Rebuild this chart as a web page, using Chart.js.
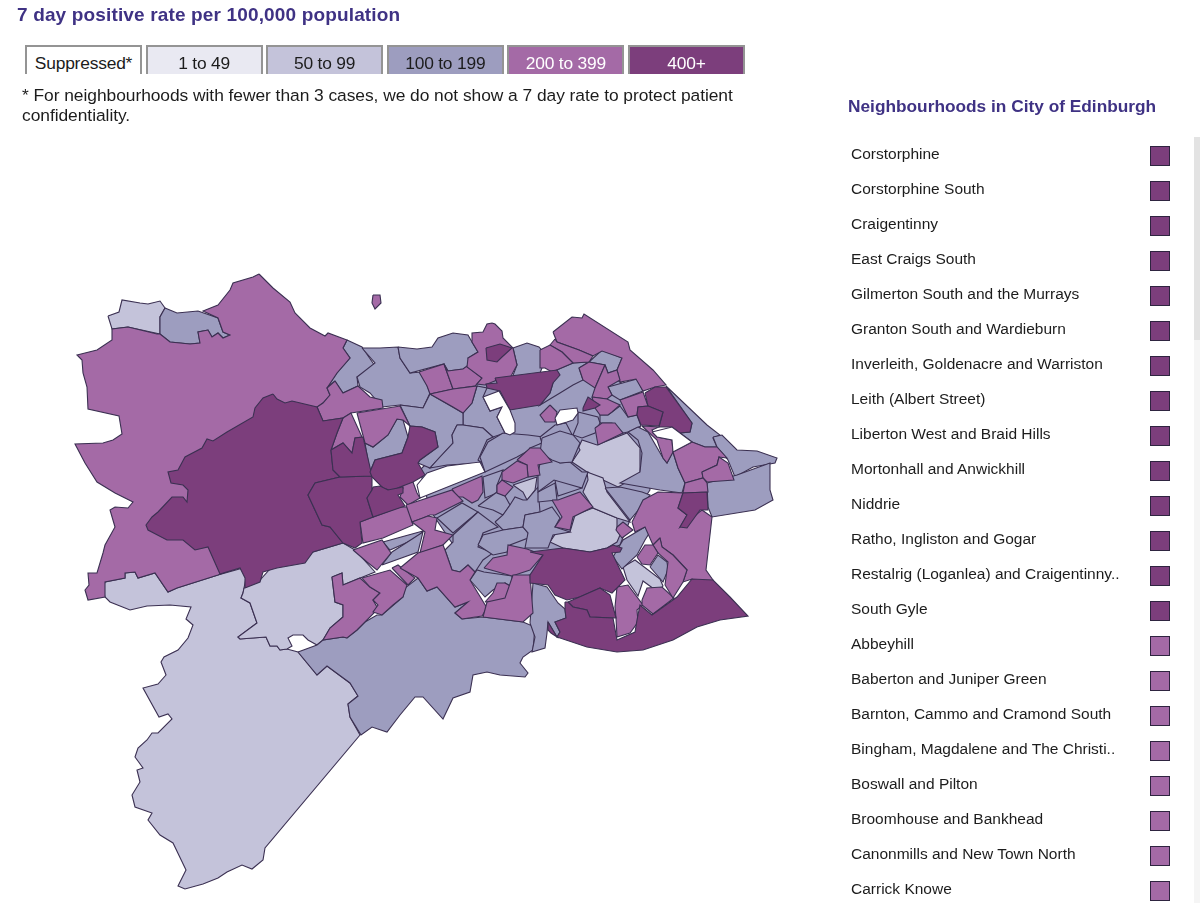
<!DOCTYPE html>
<html>
<head>
<meta charset="utf-8">
<script src="https://cdn.jsdelivr.net/npm/chart.js@4/dist/chart.umd.min.js"></script>
<style>
html,body{margin:0;padding:0;background:#fff;overflow:hidden}
body{width:1200px;height:903px;position:relative;font-family:"Liberation Sans",Arial,sans-serif;color:#1c1c1c}
#map{position:absolute;left:0;top:0}
#title{position:absolute;left:17px;top:4px;font-size:19px;font-weight:bold;color:#3f3284;letter-spacing:.15px;line-height:22px}
#key{position:absolute;left:25px;top:45px}
.chip{position:absolute;top:0;width:113px;height:27px;line-height:32px;text-align:center;font-size:17.4px;border:2px solid #949494;border-bottom:none;letter-spacing:-.2px}
#note{position:absolute;left:22px;top:85px;width:730px;font-size:17.4px;line-height:20px;letter-spacing:-.05px}
#side{position:absolute;left:848px;top:96px;font-size:17.3px;font-weight:bold;color:#3f3284}
.row{position:absolute;left:851px;font-size:15.5px;line-height:18px}
.box{position:absolute;left:1150px;width:18px;height:18px;border:1px solid #2e2440}
#scroll{position:absolute;left:1194px;top:137px;width:6px;height:766px;background:#f5f5f5}
#thumb{position:absolute;left:1194px;top:137px;width:6px;height:203px;background:#e3e3e3}
</style>
</head>
<body>
<canvas id="map" width="1200" height="903"></canvas>
<div id="title">7 day positive rate per 100,000 population</div>
<div id="key"></div>
<div id="note">* For neighbourhoods with fewer than 3 cases, we do not show a 7 day rate to protect patient confidentiality.</div>
<div id="side">Neighbourhoods in City of Edinburgh</div>
<div id="scroll"></div><div id="thumb"></div>
<script>
const band_labels = ["Suppressed*","1 to 49","50 to 99","100 to 199","200 to 399","400+"];
const band_colours = ["#ffffff","#e9e9f2","#c4c3da","#9d9dbf","#a46aa6","#7c3e7c"];
const band_text = ["#1c1c1c","#1c1c1c","#1c1c1c","#1c1c1c","#ffffff","#ffffff"];

const list_names = ["Corstorphine","Corstorphine South","Craigentinny","East Craigs South","Gilmerton South and the Murrays","Granton South and Wardieburn","Inverleith, Goldenacre and Warriston","Leith (Albert Street)","Liberton West and Braid Hills","Mortonhall and Anwickhill","Niddrie","Ratho, Ingliston and Gogar","Restalrig (Loganlea) and Craigentinny..","South Gyle","Abbeyhill","Baberton and Juniper Green","Barnton, Cammo and Cramond South","Bingham, Magdalene and The Christi..","Boswall and Pilton","Broomhouse and Bankhead","Canonmills and New Town North","Carrick Knowe"];
const list_bands = [5,5,5,5,5,5,5,5,5,5,5,5,5,5,4,4,4,4,4,4,4,4];

// outlines, x/y in picture pixels, painted in this order
const centre_underlay = [
 [[470,385],[540,373],[552,372],[590,362],[620,382],[640,395],[640,430],[650,490],[630,520],[620,545],[530,575],[510,580],[470,570],[430,510],[420,470],[430,460]]
];
const band_50 = [
 [[105,582],[125,578],[125,573],[135,572],[138,578],[155,573],[168,592],[177,588],[218,575],[243,568],[246,578],[243,593],[241,598],[250,603],[257,623],[238,637],[240,639],[266,637],[270,646],[277,646],[280,650],[287,649],[298,652],[317,675],[327,666],[350,683],[358,696],[348,704],[350,717],[360,735],[265,848],[263,860],[252,869],[242,865],[227,872],[218,878],[203,884],[185,889],[178,886],[186,870],[173,843],[160,835],[148,820],[152,813],[135,807],[132,795],[140,782],[137,770],[143,768],[135,757],[138,748],[147,740],[152,733],[158,733],[172,719],[168,714],[159,717],[143,688],[158,684],[166,675],[161,662],[164,657],[178,650],[188,638],[193,625],[186,619],[191,607],[170,605],[147,606],[130,610],[110,602],[105,597],[103,588]],
 [[244,588],[260,580],[270,569],[313,552],[343,543],[355,550],[375,572],[343,585],[342,573],[332,577],[335,602],[343,605],[343,617],[330,628],[323,640],[317,645],[308,640],[303,635],[293,635],[288,638],[292,646],[287,649],[280,650],[277,646],[270,646],[266,637],[240,639],[238,637],[257,623],[250,603],[241,598],[243,593]],
 [[108,316],[119,312],[122,300],[140,303],[148,304],[160,301],[165,308],[160,317],[160,334],[128,327],[112,329]],
 [[572,462],[582,440],[597,445],[627,433],[640,448],[640,475],[618,487],[603,480],[587,472]],
 [[550,542],[558,530],[570,532],[575,515],[593,508],[617,518],[617,530],[620,535],[617,542],[607,548],[590,552],[563,548]],
 [[587,472],[603,478],[607,492],[630,522],[617,518],[593,508],[583,492],[588,480]],
 [[513,485],[537,477],[535,490],[527,500],[523,492]],
 [[623,567],[635,560],[660,579],[663,586],[658,592],[643,581],[638,596],[627,580]]
];
const band_100 = [
 [[165,308],[177,313],[198,311],[218,318],[223,332],[230,335],[223,338],[218,333],[212,337],[208,330],[198,332],[200,343],[190,344],[170,342],[160,334],[160,317]],
 [[347,340],[362,347],[375,366],[357,377],[358,386],[343,393],[335,381],[327,388],[337,373],[350,358],[343,348]],
 [[362,348],[375,363],[357,377],[360,387],[370,393],[382,407],[400,405],[423,408],[430,393],[422,372],[410,373],[400,358],[398,347],[380,348]],
 [[398,347],[417,349],[432,347],[438,338],[453,333],[468,335],[472,342],[478,352],[468,358],[472,368],[467,367],[463,369],[448,371],[444,364],[410,373],[400,358]],
 [[513,348],[527,343],[539,347],[544,353],[544,363],[540,373],[512,378],[517,365]],
 [[477,386],[487,388],[483,397],[490,411],[502,407],[497,417],[505,433],[493,437],[483,428],[463,425],[463,413],[472,403]],
 [[400,405],[423,408],[430,394],[463,413],[463,425],[457,425],[452,435],[453,443],[440,457],[430,468],[418,463],[420,460],[438,447],[435,432],[422,427],[410,426]],
 [[365,443],[373,447],[388,435],[397,419],[403,420],[408,437],[402,453],[375,460],[370,472]],
 [[457,425],[463,425],[483,428],[493,437],[487,440],[478,460],[482,463],[447,465],[430,468],[440,457],[453,443],[452,435]],
 [[480,457],[485,472],[517,457],[542,443],[543,437],[528,435],[503,433],[488,442]],
 [[540,437],[555,425],[566,423],[580,450],[572,462],[562,463],[553,458],[540,463],[530,448],[542,443]],
 [[552,372],[573,363],[589,362],[579,368],[583,380],[573,385],[560,393],[540,405],[550,393],[553,383]],
 [[589,362],[602,350],[622,358],[617,370],[608,373],[605,365]],
 [[608,387],[637,379],[643,391],[620,400],[612,395]],
 [[600,415],[608,415],[620,406],[628,417],[637,415],[641,426],[628,432],[623,433],[612,423],[600,423]],
 [[578,412],[598,417],[600,423],[595,433],[582,438],[573,435],[578,423]],
 [[666,386],[707,425],[720,435],[713,438],[717,447],[705,447],[692,442],[680,433],[690,432],[692,423]],
 [[713,437],[722,435],[737,450],[757,451],[777,458],[775,463],[753,467],[735,477],[728,460],[717,447]],
 [[707,483],[737,475],[770,463],[770,490],[773,500],[755,510],[712,517],[708,507]],
 [[638,427],[648,432],[663,458],[667,463],[673,452],[678,468],[685,483],[682,493],[660,490],[620,483],[640,472],[642,453],[638,440],[628,432]],
 [[605,488],[620,487],[642,492],[650,495],[640,508],[630,520]],
 [[383,542],[423,531],[417,538],[390,550]],
 [[382,565],[392,552],[423,532],[418,552]],
 [[437,518],[462,503],[478,512],[453,533]],
 [[453,535],[478,512],[498,527],[483,533],[478,547],[493,553],[483,560],[475,572],[468,565],[460,572],[452,570],[445,550],[453,542]],
 [[470,580],[477,570],[484,572],[512,576],[512,587],[505,583],[493,590],[485,597]],
 [[298,652],[317,645],[323,640],[343,637],[347,638],[357,630],[365,622],[377,615],[382,615],[403,597],[405,588],[418,578],[427,591],[437,587],[455,607],[468,602],[455,613],[462,619],[483,617],[523,622],[535,627],[533,650],[523,657],[520,663],[528,673],[525,677],[500,675],[487,672],[473,675],[470,692],[453,698],[443,719],[423,697],[415,697],[400,715],[387,732],[372,727],[361,735],[350,717],[348,704],[358,696],[350,683],[327,666],[317,675]],
 [[533,583],[547,587],[558,603],[565,609],[566,618],[555,622],[560,632],[557,637],[548,622],[547,633],[545,648],[532,652],[535,637],[530,623]],
 [[613,557],[623,540],[645,527],[650,532],[645,540],[637,555],[622,569]],
 [[650,567],[658,555],[667,562],[668,570],[663,582]],
 [[483,477],[503,470],[497,485],[497,493],[485,498]],
 [[478,506],[497,492],[505,496],[510,505],[503,515],[493,510]],
 [[495,522],[503,515],[510,505],[515,497],[523,500],[527,500],[538,487],[540,512],[525,515],[523,527],[503,530]],
 [[478,545],[483,535],[503,530],[523,527],[528,533],[528,538],[510,545],[507,552],[493,555]],
 [[525,515],[540,512],[552,507],[560,518],[555,527],[570,532],[553,535],[548,548],[525,548],[528,533],[523,527]],
 [[538,492],[555,483],[557,500],[538,502]],
 [[555,480],[580,480],[582,488],[558,496]],
 [[540,463],[553,458],[560,463],[570,462],[582,472],[588,472],[582,488],[554,480],[538,492],[538,475]],
 [[542,438],[560,431],[573,435],[580,443],[572,462],[560,463],[552,460],[540,453]]
];
const band_200 = [
 [[259,274],[273,288],[290,302],[295,313],[310,328],[325,336],[328,333],[347,340],[343,348],[350,358],[337,373],[327,388],[330,395],[323,403],[300,420],[250,450],[190,500],[230,570],[218,575],[177,588],[168,592],[155,573],[138,578],[135,572],[125,573],[125,578],[105,582],[105,597],[88,600],[85,590],[89,585],[88,573],[97,573],[103,553],[105,545],[115,527],[110,510],[115,507],[128,508],[133,502],[115,493],[97,482],[85,463],[75,444],[103,443],[113,440],[122,434],[119,416],[88,409],[87,387],[83,373],[82,360],[77,355],[97,350],[112,340],[112,329],[128,327],[157,334],[160,334],[170,342],[190,344],[200,343],[198,332],[208,330],[212,337],[218,333],[223,338],[230,335],[223,332],[218,318],[203,311],[218,305],[230,290],[233,283],[253,277]],
 [[335,381],[343,393],[358,386],[370,397],[382,400],[383,408],[351,413],[343,418],[323,421],[317,407],[323,403],[330,395],[327,388]],
 [[343,418],[351,413],[362,437],[355,438],[352,453],[343,443],[331,450],[337,433]],
 [[419,372],[444,364],[453,389],[430,394],[427,386]],
 [[444,364],[448,371],[463,369],[467,366],[482,378],[475,386],[453,389]],
 [[430,394],[453,389],[477,386],[472,403],[463,413],[453,407]],
 [[492,323],[495,324],[502,331],[503,338],[513,348],[517,365],[510,378],[497,380],[485,385],[477,384],[482,378],[467,367],[468,358],[478,352],[472,342],[472,333],[483,332],[487,324]],
 [[357,413],[400,406],[410,426],[403,420],[397,419],[388,435],[373,447],[365,443]],
 [[393,473],[402,480],[413,482],[417,493],[420,498],[408,505],[400,497],[403,488]],
 [[553,332],[572,317],[582,318],[584,314],[628,342],[630,350],[653,370],[666,385],[655,387],[643,391],[636,379],[620,382],[617,370],[622,358],[602,351],[593,356],[579,350],[557,342]],
 [[555,339],[557,342],[579,350],[593,356],[589,362],[573,363],[562,352],[550,345]],
 [[540,350],[550,345],[562,352],[573,363],[552,372],[545,368],[540,368]],
 [[579,368],[589,362],[605,365],[595,388],[583,380]],
 [[605,365],[608,373],[617,370],[620,380],[608,387],[612,395],[607,399],[592,397],[595,388]],
 [[620,400],[643,392],[648,406],[638,407],[637,415],[628,417]],
 [[550,405],[557,412],[555,422],[545,422],[540,415]],
 [[595,428],[602,423],[615,423],[623,433],[598,445]],
 [[592,397],[607,399],[620,405],[612,412],[608,415],[600,415],[595,408]],
 [[673,452],[692,442],[705,447],[717,447],[727,458],[719,457],[717,465],[702,472],[703,478],[685,483],[678,468]],
 [[702,472],[717,465],[719,457],[728,463],[734,480],[707,482],[703,478]],
 [[685,483],[703,478],[707,483],[708,492],[683,493]],
 [[642,426],[659,427],[652,430],[657,437],[672,440],[673,452],[667,463],[663,458],[657,440]],
 [[517,460],[530,448],[540,448],[552,462],[538,465],[540,475],[528,477],[527,465]],
 [[502,472],[517,461],[527,465],[528,477],[513,483],[502,480]],
 [[497,485],[502,480],[513,487],[505,496],[497,493]],
 [[452,489],[482,476],[483,492],[478,500],[472,503],[463,497],[457,497]],
 [[552,500],[558,500],[580,492],[593,507],[573,517],[570,530],[555,527],[562,517]],
 [[360,522],[400,507],[408,507],[413,525],[383,538],[363,543]],
 [[406,505],[452,490],[463,501],[435,515],[430,515],[423,518],[412,522]],
 [[412,522],[428,516],[437,518],[435,530],[453,535],[443,545],[420,553],[425,532]],
 [[353,550],[382,540],[391,553],[377,570],[367,562]],
 [[332,577],[342,573],[343,585],[360,578],[370,587],[380,593],[373,600],[377,607],[375,612],[357,630],[347,638],[343,637],[323,640],[330,628],[343,617],[343,605],[335,602]],
 [[362,578],[390,570],[407,585],[403,597],[393,605],[382,615],[373,612],[378,605],[373,600],[380,593],[370,587]],
 [[392,568],[398,565],[415,578],[408,585]],
 [[400,568],[418,553],[443,545],[445,550],[452,570],[460,572],[468,565],[475,572],[470,580],[487,608],[482,616],[462,619],[455,613],[468,602],[455,607],[437,587],[427,591],[418,578]],
 [[484,568],[493,558],[507,555],[508,545],[527,549],[543,555],[530,570],[512,576]],
 [[485,602],[493,593],[497,583],[505,583],[512,587],[505,602]],
 [[483,617],[487,602],[505,598],[513,575],[530,575],[533,613],[523,622]],
 [[617,587],[628,585],[643,605],[637,610],[638,622],[630,633],[617,637],[616,618],[615,607]],
 [[642,600],[647,588],[662,587],[674,598],[653,614],[642,605]],
 [[632,522],[643,500],[658,492],[683,493],[678,508],[687,515],[680,527],[702,510],[712,517],[706,570],[713,580],[703,585],[692,579],[683,582],[687,570],[673,555],[662,547],[660,538],[653,545],[645,527],[635,532]],
 [[660,538],[662,547],[673,555],[687,570],[683,582],[673,598],[665,585],[668,562],[658,553],[653,545]],
 [[637,557],[645,545],[653,545],[658,553],[650,565],[642,564]],
 [[617,527],[623,522],[633,530],[622,538],[616,530]],
 [[373,295],[380,295],[381,303],[375,309],[372,303]]
];
const band_400 = [
 [[273,394],[277,399],[285,403],[292,401],[317,407],[323,421],[343,418],[337,433],[331,450],[333,470],[340,477],[315,483],[308,495],[322,525],[330,527],[343,543],[313,552],[305,563],[277,568],[263,572],[260,582],[245,588],[245,578],[240,568],[220,574],[208,547],[195,550],[183,540],[167,540],[148,530],[146,525],[152,517],[158,512],[172,497],[183,497],[187,502],[188,490],[183,485],[171,483],[168,472],[178,470],[185,457],[202,448],[207,439],[213,441],[227,432],[253,417],[255,408],[263,398]],
 [[315,483],[340,477],[372,476],[372,490],[367,498],[373,517],[360,522],[362,543],[355,548],[343,543],[330,527],[322,525],[308,495]],
 [[331,450],[343,443],[352,453],[355,438],[363,437],[372,476],[340,477],[333,470]],
 [[486,348],[500,344],[512,348],[502,357],[497,362],[487,360]],
 [[495,378],[557,370],[560,375],[553,383],[550,393],[540,405],[510,410],[500,391],[487,388],[486,384],[497,383]],
 [[410,426],[422,427],[435,432],[438,447],[420,460],[418,463],[425,475],[413,482],[400,487],[392,491],[383,488],[372,477],[370,472],[375,460],[402,453],[408,437]],
 [[373,487],[380,486],[388,490],[403,487],[403,493],[398,495],[405,506],[373,517],[367,498],[372,490]],
 [[645,393],[655,387],[666,387],[692,423],[690,432],[680,433],[672,427],[659,427],[663,412],[648,406]],
 [[648,406],[663,412],[659,426],[641,425],[637,415],[638,407]],
 [[583,408],[588,397],[600,405],[595,408],[583,411]],
 [[530,552],[563,548],[590,552],[607,548],[613,545],[622,548],[620,552],[612,553],[625,580],[612,593],[600,588],[580,597],[567,600],[555,595],[548,585],[530,583],[530,575],[543,555]],
 [[568,602],[600,588],[610,595],[616,618],[590,617],[587,610],[573,607]],
 [[565,602],[568,602],[573,607],[587,610],[590,617],[613,618],[617,640],[635,632],[637,620],[640,605],[652,615],[677,597],[692,579],[713,580],[730,597],[748,616],[720,620],[697,627],[673,640],[643,650],[617,652],[587,647],[557,637],[560,632],[555,622],[566,618],[565,610]],
 [[683,493],[707,492],[708,510],[700,510],[687,528],[680,527],[687,515],[678,508]],
 [[548,622],[557,637],[551,633],[548,630]]
];
const band_suppressed = [
 [[483,397],[499,391],[510,410],[515,423],[515,432],[510,435],[505,433],[497,417],[502,407],[490,411]],
 [[417,485],[427,473],[447,466],[480,462],[485,472],[420,498]],
 [[555,418],[560,410],[577,408],[578,413],[573,420],[567,422],[557,425]],
 [[652,432],[672,427],[680,433],[692,442],[673,452],[672,440],[657,437]]
];

const paint_order = [[centre_underlay,3],[band_50,2],[band_100,3],[band_200,4],[band_400,5],[band_suppressed,0]];

function mapDatasets(){
    var sets = [];
    paint_order.forEach(([rings,band])=>{
        rings.forEach(ring=>{
            var pts = ring.concat([ring[0]]).map(p=>{return {"x":p[0],"y":p[1]}});
            sets.push({
                data: pts,
                showLine: true,
                fill: 'shape',
                backgroundColor: band_colours[band],
                borderColor: '#3b3052',
                borderWidth: 1.1,
                pointRadius: 0,
                tension: 0,
                clip: false
            });
        });
    });
    // chart.js paints the first dataset last
    sets.forEach((s,i)=>{s.order = sets.length-i;});
    return sets;
}

new Chart(document.getElementById('map'), {
    type: 'scatter',
    data: {datasets: mapDatasets()},
    options: {
        responsive: false,
        animation: false,
        layout: {padding: 0},
        plugins: {legend: {display:false}, tooltip: {enabled:false}},
        scales: {
            x: {type:'linear', min:0, max:1200, display:false},
            y: {type:'linear', min:0, max:903, reverse:true, display:false}
        }
    }
});

var key = document.getElementById('key');
band_labels.forEach((t,i)=>{
    var c = document.createElement('div');
    c.className = 'chip';
    c.style.left = (i*120.6)+'px';
    c.style.background = band_colours[i];
    c.style.color = band_text[i];
    c.textContent = t;
    key.appendChild(c);
});
list_names.forEach((n,i)=>{
    var r = document.createElement('div');
    r.className = 'row';
    r.style.top = (145+i*35)+'px';
    r.textContent = n;
    document.body.appendChild(r);
    var b = document.createElement('div');
    b.className = 'box';
    b.style.top = (146+i*35)+'px';
    b.style.background = band_colours[list_bands[i]];
    document.body.appendChild(b);
});
</script>
</body>
</html>
